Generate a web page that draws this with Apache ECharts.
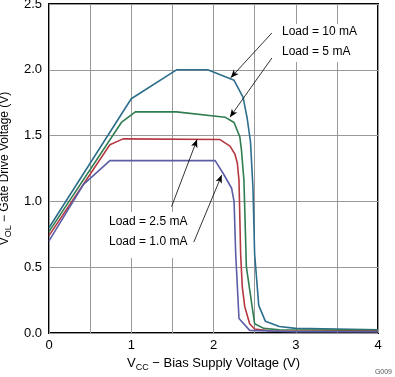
<!DOCTYPE html>
<html>
<head>
<meta charset="utf-8">
<script src="https://cdn.jsdelivr.net/npm/echarts@6/dist/echarts.min.js"></script>
<style>
  html, body { margin: 0; padding: 0; background: #fff; }
  #chart { width: 395px; height: 377px; }
</style>
</head>
<body>
<div id="chart"></div>
<script>
// VOL vs VCC, one curve per load current
var load10 = [[0, 0.80], [1.0, 1.78], [1.55, 2.0], [1.93, 2.0], [2.25, 1.92], [2.36, 1.79],
  [2.41, 1.63], [2.45, 1.45], [2.48, 1.10], [2.50, 0.60], [2.55, 0.21], [2.63, 0.09],
  [2.80, 0.05], [3.0, 0.035], [4.0, 0.025]];
var load5 = [[0, 0.77], [0.88, 1.60], [1.05, 1.68], [1.55, 1.68], [2.14, 1.64], [2.25, 1.60],
  [2.32, 1.49], [2.34, 1.39], [2.37, 1.16], [2.40, 0.50], [2.44, 0.33], [2.50, 0.07],
  [2.61, 0.035], [2.80, 0.025], [4.0, 0.02]];
var load2p5 = [[0, 0.74], [0.74, 1.43], [0.90, 1.475], [2.08, 1.47], [2.20, 1.42], [2.26, 1.36],
  [2.29, 1.29], [2.31, 1.16], [2.33, 0.60], [2.35, 0.35], [2.38, 0.20], [2.44, 0.07],
  [2.50, 0.03], [2.70, 0.015], [4.0, 0.012]];
var load1 = [[0, 0.70], [0.42, 1.13], [0.74, 1.31], [2.02, 1.31], [2.12, 1.21], [2.22, 1.10],
  [2.25, 1.00], [2.27, 0.60], [2.31, 0.11], [2.44, 0.02], [3.0, 0.01], [4.0, 0.01]];

var seriesNames = ['Load = 10 mA', 'Load = 5 mA', 'Load = 2.5 mA', 'Load = 1.0 mA'];
var seriesColors = ['#2c6e8c', '#2f7d50', '#b5383f', '#5b5ea6'];
var seriesData = [load10, load5, load2p5, load1];

// arrows: [tail, tip] in data units
var arrows = [
  [[2.71, 2.28], [2.21, 1.94]],
  [[2.71, 2.09], [2.20, 1.64]],
  [[1.49, 0.96], [1.80, 1.47]],
  [[1.76, 0.69], [2.10, 1.20]]
];

var chart = echarts.init(document.getElementById('chart'));

var series = seriesData.map(function (d, i) {
  return {
    name: seriesNames[i],
    type: 'line',
    data: d,
    symbol: 'none',
    lineStyle: { color: seriesColors[i], width: 1.6 },
    z: 3
  };
});

series.push({
  type: 'line',
  data: [],
  z: 4,
  markLine: {
    silent: true,
    symbol: ['none', 'arrow'],
    symbolSize: [5, 8],
    label: { show: false },
    lineStyle: { color: '#000', width: 0.8, type: 'solid' },
    data: arrows.map(function (a) {
      return [{ coord: a[0] }, { coord: a[1] }];
    })
  }
});

var font = 'Liberation Sans, Arial';

function label(x, y, txt) {
  return { type: 'text', left: x, top: y, z: 2, style: { text: txt, fontSize: 12, fill: '#000', fontFamily: font } };
}

var option = {
  animation: false,
  grid: {
    left: 49, right: 17, top: 4, bottom: 44,
    containLabel: false, outerBoundsMode: 'none',
    show: true, borderColor: '#000', borderWidth: 2
  },
  xAxis: {
    type: 'value', min: 0, max: 4, interval: 0.5,
    axisLine: { show: false },
    axisTick: { show: false },
    splitLine: { lineStyle: { color: '#999', width: 1 } },
    axisLabel: {
      color: '#000', fontSize: 13, fontFamily: font, margin: 6,
      formatter: function (v) { return v % 1 === 0 ? String(v) : ''; }
    },
    name: '{a|V}{s|CC}{a| − Bias Supply Voltage (V)}',
    nameLocation: 'middle', nameGap: 22,
    nameTextStyle: {
      rich: {
        a: { fontSize: 13, color: '#000', fontFamily: font, lineHeight: 17 },
        s: { fontSize: 9, color: '#000', fontFamily: font, lineHeight: 17, verticalAlign: 'bottom', padding: [5, 0, 0, 0] }
      }
    }
  },
  yAxis: {
    type: 'value', min: 0, max: 2.5, interval: 0.5,
    axisLine: { show: false },
    axisTick: { show: false },
    splitLine: { lineStyle: { color: '#999', width: 1 } },
    axisLabel: {
      color: '#000', fontSize: 13, fontFamily: font, margin: 7,
      formatter: function (v) { return v.toFixed(1); }
    },
    name: '{a|V}{s|OL}{a| − Gate Drive Voltage (V)}',
    nameLocation: 'middle', nameGap: 32,
    nameTextStyle: {
      rich: {
        a: { fontSize: 12, color: '#000', fontFamily: font, lineHeight: 16 },
        s: { fontSize: 9, color: '#000', fontFamily: font, lineHeight: 16, verticalAlign: 'bottom', padding: [5, 0, 0, 0] }
      }
    }
  },
  graphic: [
    // white boxes behind the annotation text hide the grid lines
    { type: 'rect', left: 276, top: 24, z: 1, shape: { width: 99, height: 38 }, style: { fill: '#fff' } },
    { type: 'rect', left: 104, top: 212, z: 1, shape: { width: 86, height: 46 }, style: { fill: '#fff' } },
    label(282, 26, seriesNames[0]),
    label(282, 46, seriesNames[1]),
    label(109, 216, seriesNames[2]),
    label(109, 236, seriesNames[3]),
    { type: 'text', right: 3, bottom: 1, style: { text: 'G009', fontSize: 7, fill: '#555', fontFamily: font } }
  ],
  series: series
};

chart.setOption(option);
</script>
</body>
</html>
